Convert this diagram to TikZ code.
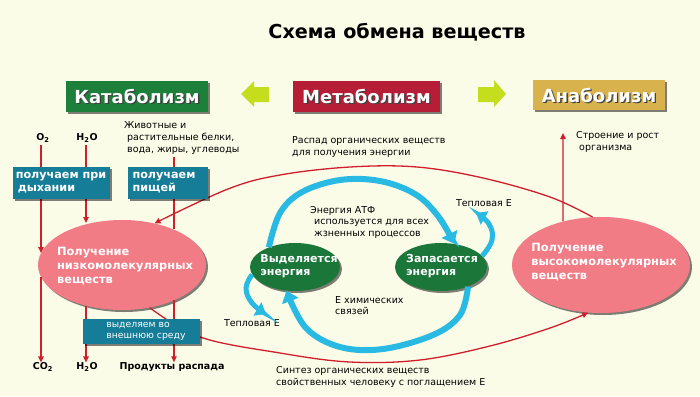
\documentclass[tikz,border=0pt]{standalone}
\usepackage{fontspec}
\setmainfont{DejaVu Sans}
\usetikzlibrary{shapes.geometric,arrows.meta,shadows}
\definecolor{bgc}{RGB}{251,252,232}
\definecolor{redl}{RGB}{208,30,45}
\definecolor{tealc}{RGB}{22,125,152}
\definecolor{pinkc}{RGB}{242,124,134}
\definecolor{dgreen}{RGB}{27,118,58}
\definecolor{katag}{RGB}{28,128,58}
\definecolor{metar}{RGB}{182,30,55}
\definecolor{anag}{RGB}{216,178,76}
\definecolor{limec}{RGB}{196,222,30}
\definecolor{cyanc}{RGB}{40,186,226}
\begin{document}
\begin{tikzpicture}[x=1pt,y=-1pt,
  shad/.style={drop shadow={shadow xshift=2pt,shadow yshift=-2pt,opacity=0.5,fill=black}},
  hdrbox/.style={shad,minimum height=31pt,inner sep=0pt},
  hdrtxt/.style={text=white,font=\fontsize{18}{20}\selectfont\bfseries,inner sep=0pt},
  hdrsh/.style={text=black!75,font=\fontsize{18}{20}\selectfont\bfseries,inner sep=0pt},
  tealbox/.style={shad,fill=tealc,inner sep=0pt},
  boxtxt/.style={text=white,font=\fontsize{11.2}{13}\selectfont\bfseries,align=left,inner sep=0pt},
  outtxt/.style={text=white,font=\fontsize{9.3}{11}\selectfont,align=left,inner sep=0pt},
  smalltxt/.style={font=\fontsize{9.5}{12.3}\selectfont,align=left,inner sep=0pt},
  midtxt/.style={font=\fontsize{9.5}{11.4}\selectfont,align=left,inner sep=0pt},
  chem/.style={font=\fontsize{9.5}{11}\selectfont\bfseries,inner sep=0pt},
  pinkell/.style={ellipse,shad,fill=pinkc,inner sep=0pt},
  greenell/.style={ellipse,shad,fill=dgreen,inner sep=0pt},
  elltxt/.style={text=white,font=\fontsize{11.4}{14}\selectfont\bfseries,align=left,inner sep=0pt},
  gtxt/.style={text=white,font=\fontsize{11}{13}\selectfont\bfseries,align=left,inner sep=0pt},
  redln/.style={draw=redl,line width=1.3pt},
  redarr/.style={redln,-{Triangle[length=6pt,width=5.5pt]}},
  cyarr/.style={draw=cyanc,line width=6pt,-{Triangle[length=11pt,width=17pt]}},
  cyarrs/.style={draw=cyanc,line width=5pt,-{Triangle[length=10pt,width=15pt]}}
]
\fill[bgc] (0,0) rectangle (700,396);
\useasboundingbox (0,0) rectangle (700,396);

% title
\node[font=\fontsize{19.2}{21}\selectfont\bfseries,inner sep=0pt] (title) at (397,32) {Схема обмена веществ};

% headers
\node[hdrbox,fill=katag,minimum width=142pt] (kata) at (137,96) {};
\node[hdrsh] (katas) at ([shift={(1.3,1.3)}]kata.center) {Катаболизм};
\node[hdrtxt] (katat) at (kata.center) {Катаболизм};
\node[hdrbox,fill=metar,minimum width=147pt] (meta) at (366.5,96) {};
\node[hdrsh] (metas) at ([shift={(1.3,1.3)}]meta.center) {Метаболизм};
\node[hdrtxt] (metat) at (meta.center) {Метаболизм};
\node[hdrbox,fill=anag,minimum width=132pt,minimum height=30pt] (ana) at (599,95) {};
\node[hdrsh] (anas) at ([shift={(1.3,1.3)}]ana.center) {Анаболизм};
\node[hdrtxt] (anat) at (ana.center) {Анаболизм};

% lime arrows
\fill[limec] (241,94) -- (254,81) -- (254,87) -- (269,87) -- (269,102) -- (254,102) -- (254,107) -- cycle;
\fill[limec] (506,94) -- (494,80) -- (494,87) -- (478,87) -- (478,102) -- (494,102) -- (494,107) -- cycle;

% text labels
\node[chem] (o2in) at (43,138) {O\textsubscript{2}};
\node[chem] (h2oin) at (87,138) {H\textsubscript{2}O};
\node[smalltxt,anchor=north west] (foodtxt) at (124,121) {Животные и\\\hspace*{3pt}растительные белки,\\\hspace*{3pt}вода, жиры, углеводы};
\node[smalltxt,anchor=north west] (decay) at (292,136) {Распад органических веществ\\для получения энергии};
\node[smalltxt,anchor=north west] (growtxt) at (576,131) {Строение и рост\\\hspace*{3pt}организма};
\node[smalltxt,anchor=north west] (synth) at (276,366) {Синтез органических веществ\\свойственных человеку с поглащением Е};
\node[midtxt,anchor=north west] (atp) at (310,206) {Энергия АТФ\\\hspace*{4pt}используется для всех\\\hspace*{4pt}жзненных процессов};
\node[midtxt,anchor=north west] (chemb) at (335,296) {Е химических\\связей};
\node[midtxt] (heatL) at (252,323) {Тепловая Е};
\node[midtxt] (heatR) at (484,203) {Тепловая Е};
\node[chem] (co2out) at (43,367) {CO\textsubscript{2}};
\node[chem] (h2oout) at (87,367) {H\textsubscript{2}O};
\node[chem] (prod) at (172,367) {Продукты распада};

% ellipses
\node[pinkell,minimum width=168pt,minimum height=90pt] (lowell) at (122,265) {};
\node[pinkell,minimum width=178pt,minimum height=96pt] (highell) at (601,265) {};
\node[greenell,minimum width=90pt,minimum height=48pt] (vyd) at (295,267) {};
\node[greenell,minimum width=92pt,minimum height=48pt] (zap) at (441,267) {};

% red connectors
\coordinate (o2foot) at (41,145);
\coordinate (h2ofoot) at (86,145);
\coordinate (foodfoot) at (174,157);
\coordinate (growtop) at (563,133);
\draw[redln] (o2foot) -- (41,167);
\draw[redln] (h2ofoot) -- (86,167);
\draw[redln] (foodfoot) -- (174,167);
\draw[redarr] (41,199) -- (41,253);
\draw[redarr] (41,277) -- (co2out.north -| 41,0);
\draw[redarr] (86,199) -- (86,223);
\draw[redln] (174,199) -- (174,229);
\draw[redarr] (86,306) -- (h2oout.north -| 86,0);
\draw[redarr] (174,300) -- (prod.north -| 174,0);
\draw[redarr] (highell.131) -- (growtop);
\draw[redarr] plot[smooth,tension=0.6] coordinates {(highell.100) (550,197) (483,178) (417,167) (350,167) (280,175) (228,189) (lowell.52)};
\draw[redarr] plot[smooth,tension=0.6] coordinates {(lowell.-57) (200,337) (280,353) (350,362) (420,360) (490,346) (550,328) (highell.-105)};

% ellipse texts
\node[elltxt] (lowtxt) at (125,266) {Получение\\низкомолекулярных\\веществ};
\node[elltxt] (hightxt) at (604,262) {Получение\\высокомолекулярных\\веществ};
\node[gtxt] (vydtxt) at (299,266) {Выделяется\\энергия};
\node[gtxt] (zaptxt) at (442,266) {Запасается\\энергия};

% boxes
\node[tealbox,minimum width=97pt,minimum height=32pt] (resp) at (61.5,183) {};
\node[boxtxt] (resptxt) at (61,183) {получаем при\\\hspace*{2pt}дыхании};
\node[tealbox,minimum width=80pt,minimum height=32pt] (food) at (168,183) {};
\node[boxtxt] (foodbt) at (164,183) {получаем\\пищей};
\node[tealbox,minimum width=117pt,minimum height=25pt] (outb) at (141.5,331.5) {};
\node[outtxt] (outtx) at (146,331.5) {выделяем во\\внешнюю среду};

% cyan arrows
\coordinate (heatLtip) at (266,314);
\coordinate (heatRtip) at (476,213);
\draw[cyarr] plot[smooth,tension=0.6] coordinates {(vyd.143) (280,213) (302,192) (340,180) (380,181) (415,194) (438,216) (zap.60)};
\draw[cyarr] plot[smooth,tension=0.6] coordinates {(zap.-36) (460,315) (433,335) (383,349) (340,347) (306,328) (vyd.-110)};
\draw[cyarrs] plot[smooth,tension=0.7] coordinates {(vyd.190) (246,288) (252,303) (heatLtip)};
\draw[cyarrs] plot[smooth,tension=0.7] coordinates {(zap.15) (492,240) (489,224) (heatRtip)};

\end{tikzpicture}
\end{document}
